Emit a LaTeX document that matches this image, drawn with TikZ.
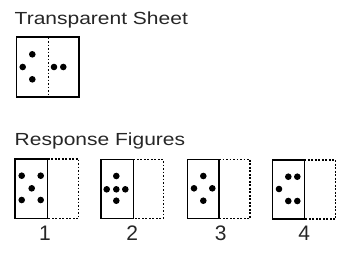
\documentclass[tikz,border=0pt]{standalone}
\usepackage{fontspec}
\setmainfont{Liberation Sans}
\begin{document}
\begin{tikzpicture}[x=1pt,y=-1pt,
  frame/.style={line width=1.5pt},
  dotline/.style={line width=1.4pt,dash pattern=on 1.9pt off 1.6pt},
  dot/.style={fill=black},
  lab/.style={font=\fontsize{17.5}{19}\selectfont,xscale=1.2,inner sep=0pt,anchor=base west,text=black!85},
  num/.style={font=\fontsize{21}{23}\selectfont,inner sep=0pt,anchor=base,text=black!85}]
\useasboundingbox (0,0) rectangle (350,255);
\node[lab] (t1) at (14.5,24.3) {Transparent Sheet};
\node[lab] (t2) at (14.5,145.7) {Response Figures};
% transparent sheet
\draw[frame] (16.5,37) rectangle (79,97);
\draw[dotline] (48.3,37.5) -- (48.3,96.5);
\foreach \p in {(32.3,54.3),(22.7,67),(32.3,79.3),(54,67),(63.3,67)}
  \fill[dot] \p circle (3.3);
% response figure 1
\draw[dotline] (47.7,159) -- (78.7,159) -- (78.7,218.3) -- (47.7,218.3);
\draw[frame] (15,159) rectangle (47.7,218.3);
\foreach \p in {(21.7,175.7),(40.7,175.7),(31.7,188.3),(21.7,200),(40.7,200)}
  \fill[dot] \p circle (3.3);
\node[num] (n1) at (45,240.5) {1};
% figure 2
\draw[dotline] (133.3,159.5) -- (163.3,159.5) -- (163.3,218.3) -- (133.3,218.3);
\draw[frame] (101,159.5) rectangle (133.3,218.3);
\foreach \p in {(116.3,176),(106.7,189.3),(116.3,189.3),(125.3,189.3),(116.3,200.7)}
  \fill[dot] \p circle (3.3);
\node[num] (n2) at (132.2,240.5) {2};
% figure 3
\draw[dotline] (219,159.3) -- (250,159.3) -- (250,218.3) -- (219,218.3);
\draw[frame] (187.3,159.3) rectangle (219,218.3);
\foreach \p in {(203.3,176),(194,188.3),(212.3,188.3),(203.3,200.7)}
  \fill[dot] \p circle (3.3);
\node[num] (n3) at (220.6,240.5) {3};
% figure 4
\draw[dotline] (304.3,160) -- (335.7,160) -- (335.7,219) -- (304.3,219);
\draw[frame] (272.7,160) rectangle (304.3,219);
\foreach \p in {(288.3,176.7),(297.3,176.7),(279,189),(288.3,201),(297.3,201)}
  \fill[dot] \p circle (3.3);
\node[num] (n4) at (304.3,240.5) {4};
\end{tikzpicture}
\end{document}
